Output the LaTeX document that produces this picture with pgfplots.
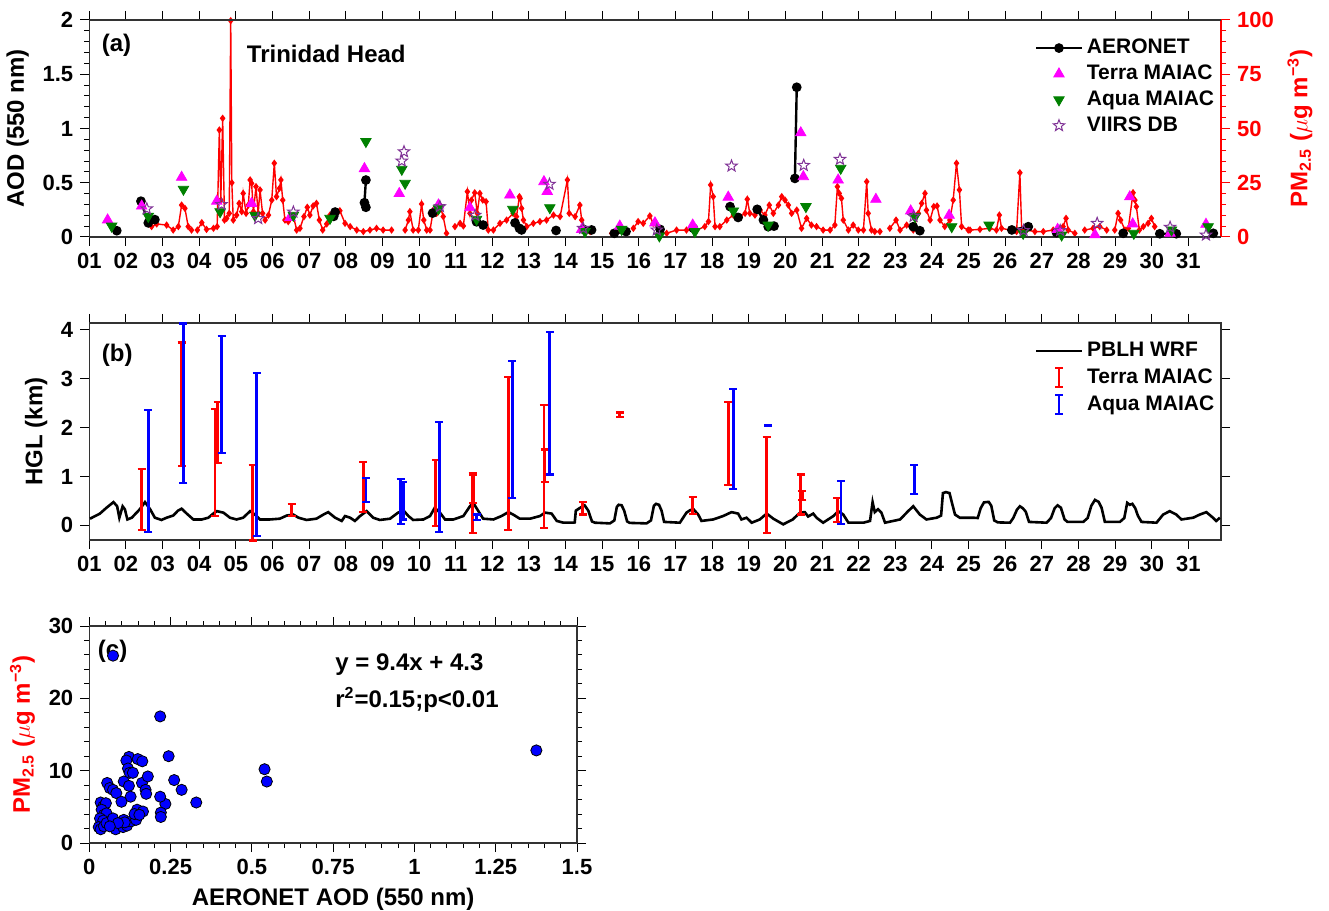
\documentclass[border=0pt]{standalone}
\usepackage{fontspec}
\setmainfont{Liberation Sans}
\usepackage{pgfplots}
\pgfplotsset{compat=1.18}
\definecolor{aqgreen}{RGB}{0,128,0}
\definecolor{vpurple}{RGB}{128,50,150}
\definecolor{tmag}{RGB}{255,0,255}
\pgfdeclareplotmark{ostar}{%
  \pgfpathmoveto{\pgfpointpolar{90}{\pgfplotmarksize}}%
  \pgfpathlineto{\pgfpointpolar{126}{0.42\pgfplotmarksize}}%
  \pgfpathlineto{\pgfpointpolar{162}{\pgfplotmarksize}}%
  \pgfpathlineto{\pgfpointpolar{198}{0.42\pgfplotmarksize}}%
  \pgfpathlineto{\pgfpointpolar{234}{\pgfplotmarksize}}%
  \pgfpathlineto{\pgfpointpolar{270}{0.42\pgfplotmarksize}}%
  \pgfpathlineto{\pgfpointpolar{306}{\pgfplotmarksize}}%
  \pgfpathlineto{\pgfpointpolar{342}{0.42\pgfplotmarksize}}%
  \pgfpathlineto{\pgfpointpolar{18}{\pgfplotmarksize}}%
  \pgfpathlineto{\pgfpointpolar{54}{0.42\pgfplotmarksize}}%
  \pgfpathclose\pgfusepathqstroke}
\pgfplotsset{
 base/.style={scale only axis, anchor=south west, tick align=outside,
   major tick length=4.5pt, minor tick length=2.5pt,
   every tick/.style={black, line width=0.5pt},
   axis line style={line width=0.6pt, black!80},
   ticklabel style={font=\bfseries\fontsize{11}{12}\selectfont},
   label style={font=\bfseries\fontsize{12}{14}\selectfont},
   /pgf/number format/assume math mode=true,
   legend cell align=left},
 days/.style={xmin=1, xmax=31.89, xtick={1,...,31},
   xticklabels={01,02,03,04,05,06,07,08,09,10,11,12,13,14,15,16,17,18,19,20,21,22,23,24,25,26,27,28,29,30,31}},
 leg/.style={legend style={draw=none, fill=none, font=\bfseries\fontsize{10.5}{12.5}\selectfont, row sep=0.1pt},
   legend image code/.code={\draw[mark repeat=2,mark phase=2,##1] plot coordinates {(0cm,0cm) (0.4cm,0cm) (0.8cm,0cm)};}},
 ibeam/.style={legend image code/.code={\draw[#1, line width=1.3pt] (0.4cm,-0.17cm) -- (0.4cm,0.17cm);
     \draw[#1, line width=1.1pt] (0.33cm,-0.17cm) -- (0.47cm,-0.17cm) (0.33cm,0.17cm) -- (0.47cm,0.17cm);},
   draw=none, mark=none, error bars/.cd, y dir=both, y explicit,
   error bar style={draw=#1, solid, line width=1.4pt},
   error mark options={draw=#1, solid, rotate=90, mark size=2pt, line width=1.1pt}},
}
\begin{document}
\begin{tikzpicture}
\path[use as bounding box] (0,0) rectangle (664.5pt,455.5pt);
% ---------- panel (a): PM2.5 (right axis) ----------
\begin{axis}[base, days, at={(44.65pt,337pt)}, width=565.85pt, height=108.5pt,
  axis y line*=right, axis x line=none, ymin=0, ymax=100, ytick={0,25,50,75,100},
  minor y tick num=4, y axis line style={red, line width=0.6pt},
  every y tick/.style={red, line width=0.5pt}, yticklabel style={red},
  ylabel={PM\textsubscript{2.5} ($\mu$g m\textsuperscript{−3})}, ylabel style={red},
  unbounded coords=jump]
\addplot[red, line width=0.7pt, mark=diamond*, mark size=1.3pt] coordinates {
(2.70,4.8)(2.84,6.0)(3.11,5.5)(3.29,3.2)(3.43,4.8)(3.52,14.7)(3.61,13.2)(3.70,4.8)(3.79,3.2)(3.87,nan)
(3.95,3.2)(4.07,6.6)(4.20,3.5)(4.39,4.0)(4.49,4.8)(4.55,49.3)(4.59,17)(4.64,54.7)(4.69,7.8)(4.75,8.6)(4.82,10.9)(4.86,99.7)(4.89,25)(4.93,7.8)(5.02,10.1)(5.09,15.5)(5.16,11.7)(5.20,20.1)(5.28,10.9)(5.34,14.7)(5.39,26.3)(5.43,24.7)(5.48,11.7)(5.55,23.2)(5.61,10.9)(5.66,21.7)(5.73,10.9)(5.80,7.8)(5.89,10.1)(5.98,17)(6.05,34)(6.11,18.6)(6.19,22.4)(6.23,26.3)(6.28,17)(6.34,7.8)(6.43,7.1)(6.57,9.7)(6.66,3.2)(6.75,4.0)(6.86,9.4)(6.95,13.7)(7.02,10.1)(7.11,14.3)(7.20,15.5)(7.28,7.8)(7.37,3.2)(7.48,6.0)(7.57,10.1)(7.71,9.4)(7.84,12.1)(7.98,6.3)(8.12,4.8)(8.30,3.2)(8.48,2.5)(8.66,3.2)(8.84,4.0)(9.02,3.2)(9.25,3.2)(9.4,nan)
(9.62,3.2)(9.71,7.8)(9.75,11.7)(9.84,3.2)(9.98,3.2)(10.07,15.2)(10.13,7.8)(10.21,3.2)(10.30,3.2)(10.39,12.4)(10.48,10.9)(10.57,14.7)(10.66,9.4)(10.75,1.7)(10.85,nan)
(10.98,4.8)(11.12,6.3)(11.21,5.1)(11.32,20.9)(11.39,10.9)(11.43,17)(11.52,20.4)(11.59,10.9)(11.66,20.1)(11.74,17)(11.83,16.3)(11.89,3.2)(12.03,3.2)(12.21,6.3)(12.39,7.8)(12.57,10.9)(12.66,9.4)(12.74,18.6)(12.76,17.8)(12.80,13.2)(12.85,7.8)(12.94,4.8)(13.12,6.3)(13.30,7.1)(13.48,7.8)(13.67,10.1)(13.85,9.4)(14.05,26.3)(14.10,10.9)(14.26,9.4)(14.39,14.7)(14.44,7.8)(14.53,3.2)(14.67,2.5)(14.9,nan)
(15.26,1.7)(15.48,3.2)(15.67,1.7)(15.76,nan)
(15.85,4.0)(15.98,7.1)(16.12,6.3)(16.30,9.7)(16.39,6.3)(16.58,2.5)(16.76,1.7)(17.03,3.2)(17.30,3.2)(17.58,3.2)(17.80,4.8)(17.90,7.1)(17.96,24)(18.03,18.6)(18.08,4.8)(18.21,4.8)(18.40,7.8)(18.58,10.1)(18.76,9.4)(18.90,10.9)(18.96,17.4)(19.03,10.9)(19.17,10.1)(19.31,12.4)(19.44,10.1)(19.56,14.7)(19.67,10.9)(19.81,14.7)(19.90,18.6)(19.99,17)(20.08,14.7)(20.17,10.9)(20.31,12.4)(20.44,4.0)(20.58,8.6)(20.71,5.5)(20.85,4.8)(21.03,3.2)(21.22,3.2)(21.35,5.5)(21.42,23.2)(21.47,20.1)(21.53,17.8)(21.58,7.8)(21.72,3.2)(21.85,5.5)(21.99,3.2)(22.13,3.2)(22.22,25.5)(22.26,10.9)(22.35,3.2)(22.44,2.5)(22.58,2.5)(22.7,nan)
(22.85,4.0)(23.02,7.8)(23.13,3.2)(23.31,5.5)(23.49,3.2)(23.63,10.9)(23.72,15.5)(23.81,20.1)(23.85,12.4)(23.95,7.8)(24.05,14)(24.14,14.3)(24.22,7.8)(24.35,4.8)(24.49,7.8)(24.58,17)(24.67,34)(24.75,21.7)(24.81,4.8)(24.99,3.2)(25.04,3.2)(25.31,3.5)(25.58,4.0)(25.76,3.2)(25.84,10.1)(25.90,4.0)(26.13,3.2)(26.31,2.5)(26.40,29.6)(26.45,3.2)(26.58,3.2)(26.81,2.5)(27.04,2.5)(27.31,3.2)(27.58,4.8)(27.66,8.6)(27.72,3.2)(27.90,1.7)(28.0,nan)
(28.17,3.2)(28.40,4.0)(28.58,4.8)(28.77,3.2)(28.88,nan)
(28.99,3.2)(29.08,10.9)(29.15,7.8)(29.27,3.2)(29.36,4.0)(29.49,20.4)(29.54,17)(29.58,14)(29.66,3.2)(29.77,4.8)(29.90,6.3)(29.99,8.6)(30.08,4.8)
};
\end{axis}
% ---------- panel (a): AOD (left axis) ----------
\begin{axis}[base, days, leg, at={(44.65pt,337pt)}, width=565.85pt, height=108.5pt,
  axis y line*=left, ymin=0, ymax=2, ytick={0,0.5,1,1.5,2}, minor y tick num=4,
  ylabel={AOD (550 nm)}, unbounded coords=jump,
  legend style={at={(axis description cs:0.83,0.95)}, anchor=north west}]
\addplot[black, line width=1.2pt, mark=*, mark size=1.8pt] coordinates {
(1.75,0.058)(1.9,nan)
(2.41,0.33)(2.61,0.13)(2.79,0.16)(2.9,nan)
(7.67,0.19)(7.71,0.23)(7.8,nan)
(8.55,0.525)(8.51,0.316)(8.55,0.274)(8.7,nan)
(10.37,0.22)(10.5,0.26)(10.6,nan)
(11.57,0.14)(11.75,0.11)(11.9,nan)
(12.62,0.13)(12.74,0.08)(12.8,0.065)(12.9,nan)
(13.74,0.06)(13.9,nan)
(14.49,0.07)(14.71,0.065)(14.9,nan)
(15.33,0.034)(15.65,0.05)(15.8,nan)
(16.58,0.07)(16.7,nan)
(17.49,0.08)(17.6,nan)
(18.49,0.28)(18.71,0.18)(18.8,nan)
(19.23,0.255)(19.40,0.157)(19.53,0.095)(19.69,0.1)(19.8,nan)
(20.26,0.54)(20.31,1.38)(20.4,nan)
(23.49,0.095)(23.67,0.058)(23.8,nan)
(26.18,0.065)(26.63,0.095)(26.8,nan)
(27.40,0.04)(27.5,nan)
(29.22,0.034)(29.3,nan)
(30.22,0.03)(30.67,0.03)(30.8,nan)
(31.68,0.034)
};
\addlegendentry{AERONET}
\addplot[only marks, mark=triangle*, mark size=3pt, color=tmag, fill=tmag] coordinates {
(1.50,0.157)(2.43,0.285)(3.52,0.55)(4.48,0.33)(5.43,0.31)(6.48,0.18)(8.51,0.63)(9.46,0.40)(10.53,0.295)(11.39,0.27)(12.48,0.387)
(13.41,0.51)(13.50,0.42)(14.44,0.07)(15.48,0.10)(16.44,0.13)(17.47,0.11)(18.44,0.367)(20.42,0.96)(20.49,0.556)(21.44,0.525)(22.47,0.347)(23.42,0.24)(24.47,0.20)
(27.43,0.07)(28.45,0.02)(29.40,0.37)(29.48,0.12)(30.50,0.034)(31.48,0.117)
};
\addlegendentry{Terra MAIAC}
\addplot[only marks, mark=triangle*, mark options={rotate=180}, mark size=3pt, color=aqgreen, fill=aqgreen] coordinates {
(1.61,0.10)(2.61,0.19)(3.57,0.44)(4.57,0.233)(5.52,0.20)(6.57,0.20)(7.57,0.172)(8.55,0.88)(9.53,0.624)(9.62,0.495)(10.53,0.26)(11.57,0.163)(12.56,0.255)
(13.57,0.27)(14.53,0.05)(15.53,0.07)(16.56,0.01)(17.53,0.05)(18.58,0.24)(19.53,0.11)(20.56,0.28)(21.51,0.633)(23.54,0.187)(24.54,0.095)
(25.56,0.11)(26.49,0.034)(27.54,0.018)(29.51,0.034)(30.54,0.065)(31.54,0.095)
};
\addlegendentry{Aqua MAIAC}
\addplot[only marks, mark=ostar, mark size=3pt, color=vpurple, line width=0.5pt] coordinates {
(2.57,0.26)(4.61,0.30)(5.61,0.17)(6.57,0.23)(9.53,0.70)(9.59,0.786)(10.57,0.28)(11.53,0.20)
(13.56,0.486)(14.48,0.08)(16.49,0.065)(18.53,0.654)(20.50,0.66)(21.49,0.716)(23.50,0.19)
(26.50,0.06)(27.50,0.06)(28.51,0.126)(30.50,0.09)(31.48,0.018)
};
\addlegendentry{VIIRS DB}
\node[anchor=west, font=\bfseries\fontsize{12}{14}\selectfont] at (axis cs:1.15,1.77) {(a)};
\node[anchor=west, font=\bfseries\fontsize{12}{14}\selectfont] at (axis cs:5.11,1.69) {Trinidad Head};
\end{axis}
% ---------- panel (b) ----------
\begin{axis}[base, days, leg, at={(44.65pt,185.5pt)}, width=565.85pt, height=108.5pt,
  ymin=-0.3, ymax=4.14, ytick={0,1,2,3,4}, yticklabel pos=left, clip=false,
  ylabel={HGL (km)},
  legend style={at={(axis description cs:0.83,0.95)}, anchor=north west, row sep=0.6pt}]
\addplot[black, line width=1.3pt] coordinates {
(1.02,0.136)(1.29,0.24)(1.47,0.36)(1.66,0.475)(1.76,0.39)(1.82,0.156)(1.91,0.39)(1.97,0.33)(2.04,0.12)(2.16,0.156)(2.38,0.33)(2.52,0.475)(2.66,0.33)(2.79,0.156)(2.97,0.11)
(3.11,0.156)(3.29,0.20)(3.42,0.30)(3.52,0.34)(3.66,0.24)(3.84,0.12)(4.07,0.12)(4.25,0.156)(4.40,0.25)(4.48,0.29)(4.66,0.26)(4.84,0.156)(5.02,0.12)(5.20,0.156)(5.39,0.29)(5.52,0.22)(5.66,0.12)
(5.93,0.12)(6.20,0.136)(6.39,0.20)(6.57,0.22)(6.71,0.156)(6.93,0.11)(7.20,0.136)(7.39,0.22)(7.52,0.27)(7.71,0.156)(7.89,0.09)(7.98,0.19)(8.12,0.156)(8.25,0.09)(8.39,0.19)
(8.57,0.29)(8.75,0.156)(8.93,0.11)(9.21,0.136)(9.43,0.26)(9.57,0.31)(9.71,0.19)(9.84,0.11)(10.12,0.12)(10.30,0.19)(10.43,0.36)(10.57,0.26)(10.71,0.12)(10.94,0.12)
(11.21,0.19)(11.39,0.39)(11.48,0.46)(11.62,0.29)(11.75,0.136)(12.03,0.12)(12.25,0.19)(12.44,0.27)(12.57,0.22)(12.75,0.136)(13.03,0.136)(13.30,0.19)(13.44,0.26)(13.62,0.24)
(13.76,0.09)(13.94,0.054)(14.21,0.054)(14.25,0.06)(14.28,0.30)(14.40,0.36)(14.52,0.41)(14.62,0.30)(14.72,0.08)(14.80,0.054)
(15.21,0.04)(15.33,0.10)(15.40,0.38)(15.45,0.42)(15.53,0.41)(15.60,0.30)(15.68,0.08)(15.75,0.05)
(16.21,0.04)(16.33,0.10)(16.41,0.40)(16.47,0.44)(16.55,0.42)(16.62,0.30)(16.69,0.07)
(17.12,0.054)(17.30,0.26)(17.40,0.31)(17.49,0.33)(17.62,0.22)(17.71,0.09)(18.03,0.12)(18.30,0.19)(18.53,0.27)(18.71,0.24)(18.80,0.12)(18.94,0.156)
(19.08,0.054)(19.30,0.12)(19.49,0.24)(19.67,0.136)(19.94,0.02)(20.20,0.12)(20.40,0.26)(20.53,0.27)(20.62,0.18)(20.76,0.24)(20.85,0.156)(21.03,0.054)(21.31,0.19)(21.44,0.29)
(21.58,0.22)(21.72,0.054)(22.13,0.054)(22.31,0.09)(22.38,0.475)(22.44,0.27)(22.53,0.33)(22.62,0.26)(22.72,0.054)(23.13,0.12)(23.35,0.29)(23.49,0.39)(23.67,0.22)(23.85,0.12)
(24.13,0.156)(24.25,0.20)(24.30,0.66)(24.38,0.68)(24.48,0.66)(24.55,0.45)(24.63,0.22)(24.76,0.156)
(25.13,0.156)(25.25,0.15)(25.33,0.35)(25.42,0.47)(25.55,0.48)(25.62,0.40)(25.70,0.10)(25.80,0.06)
(26.13,0.054)(26.22,0.15)(26.32,0.32)(26.40,0.39)(26.48,0.35)(26.56,0.28)(26.65,0.07)
(27.13,0.054)(27.25,0.15)(27.35,0.35)(27.43,0.41)(27.52,0.36)(27.62,0.12)(27.70,0.07)
(28.13,0.07)(28.25,0.15)(28.35,0.40)(28.45,0.52)(28.55,0.48)(28.63,0.36)(28.72,0.07)
(29.13,0.07)(29.25,0.15)(29.33,0.46)(29.40,0.42)(29.47,0.44)(29.55,0.35)(29.62,0.20)(29.72,0.07)
(30.13,0.054)(30.31,0.22)(30.49,0.29)(30.67,0.22)(30.81,0.12)(31.13,0.156)(31.31,0.22)(31.49,0.27)(31.67,0.156)(31.76,0.09)(31.86,0.156)
};
\addlegendentry{PBLH WRF}
\addplot[ibeam=red] coordinates {
(2.43,0.525) +- (0,0.625)
(3.52,2.475) +- (0,1.265)
(4.43,1.285) +- (0,1.095)
(4.50,1.905) +- (0,0.625)
(5.46,0.465) +- (0,0.775)
(6.52,0.31) +- (0,0.12)
(8.48,0.785) +- (0,0.505)
(10.46,0.66) +- (0,0.67)
(11.46,0.455) +- (0,0.605)
(11.48,0.75) +- (0,0.29)
(12.44,1.465) +- (0,1.565)
(13.41,1.205) +- (0,1.255)
(13.43,1.215) +- (0,0.335)
(14.47,0.3475) +- (0,0.1275)
(15.48,2.26) +- (0,0.05)
(17.47,0.41) +- (0,0.17)
(18.44,1.675) +- (0,0.855)
(19.49,0.825) +- (0,0.985)
(20.42,0.63) +- (0,0.41)
(20.46,0.61) +- (0,0.09)
(21.42,0.315) +- (0,0.245)
};
\addlegendentry{Terra MAIAC}
\addplot[ibeam=blue] coordinates {
(2.61,1.115) +- (0,1.245)
(3.57,2.5) +- (0,1.63)
(4.61,2.675) +- (0,1.195)
(5.57,1.445) +- (0,1.665)
(8.55,0.725) +- (0,0.245)
(9.50,0.485) +- (0,0.455)
(9.57,0.5) +- (0,0.38)
(10.55,0.995) +- (0,1.125)
(11.57,0.165) +- (0,0.055)
(12.55,1.965) +- (0,1.405)
(13.57,2.5) +- (0,1.46)
(18.58,1.77) +- (0,1.02)
(19.53,2.04) +- (0,0.01)
(21.52,0.46) +- (0,0.44)
(23.52,0.9375) +- (0,0.2925)
};
\addlegendentry{Aqua MAIAC}
\node[anchor=west, font=\bfseries\fontsize{12}{14}\selectfont] at (axis cs:1.15,3.48) {(b)};
\end{axis}
% ---------- panel (c) ----------
\begin{axis}[base, at={(44.65pt,34pt)}, width=243.85pt, height=108.5pt,
  xmin=0, xmax=1.5, ymin=0, ymax=30, xtick={0,0.25,...,1.5}, ytick={0,10,20,30},
  xticklabels={0,0.25,0.5,0.75,1,1.25,1.5},
  minor x tick num=4, minor y tick num=4, xticklabel pos=lower, yticklabel pos=left,
  xlabel={AERONET AOD (550 nm)},
  ylabel={PM\textsubscript{2.5} ($\mu$g m\textsuperscript{−3})}, ylabel style={red}]
\addplot[only marks, mark=*, mark size=2.8pt, mark options={fill=blue, draw=black, line width=0.4pt}] coordinates {
(0.073,25.9)(0.218,17.5)(0.244,12.0)(0.261,8.7)(0.284,7.35)(0.329,5.6)(0.234,5.4)(0.218,6.4)(0.22,4.2)(0.22,3.6)
(0.539,10.2)(0.546,8.5)(1.375,12.8)
(0.122,11.9)(0.114,11.4)(0.119,10.3)(0.124,9.7)(0.134,9.7)(0.149,11.6)(0.163,11.3)(0.106,8.5)(0.122,7.9)(0.127,6.4)
(0.162,8.3)(0.18,9.2)(0.173,7.35)(0.175,6.8)(0.055,8.3)(0.063,7.6)(0.073,7.35)(0.083,6.9)(0.099,5.7)
(0.035,5.6)(0.043,5.05)(0.051,5.5)(0.038,4.6)(0.045,3.9)(0.053,4.1)(0.033,3.4)(0.043,3.1)(0.029,2.2)(0.035,1.9)
(0.045,2.3)(0.053,2.75)(0.073,3.4)(0.081,1.9)(0.093,2.75)(0.106,3.2)(0.104,2.2)(0.116,2.4)(0.129,3.0)(0.109,2.85)
(0.144,3.2)(0.147,4.6)(0.139,4.0)(0.165,4.35)(0.154,3.9)(0.088,2.75)(0.063,2.3)
};
\node[anchor=west, font=\bfseries\fontsize{12}{14}\selectfont] at (axis cs:0.005,26.5) {(c)};
\node[anchor=west, font=\bfseries\fontsize{12}{14}\selectfont] at (axis cs:0.735,24.6) {y = 9.4x + 4.3};
\node[anchor=west, font=\bfseries\fontsize{12}{14}\selectfont] at (axis cs:0.735,19.8) {r\textsuperscript{2}=0.15;p<0.01};
\end{axis}
\end{tikzpicture}
\end{document}
